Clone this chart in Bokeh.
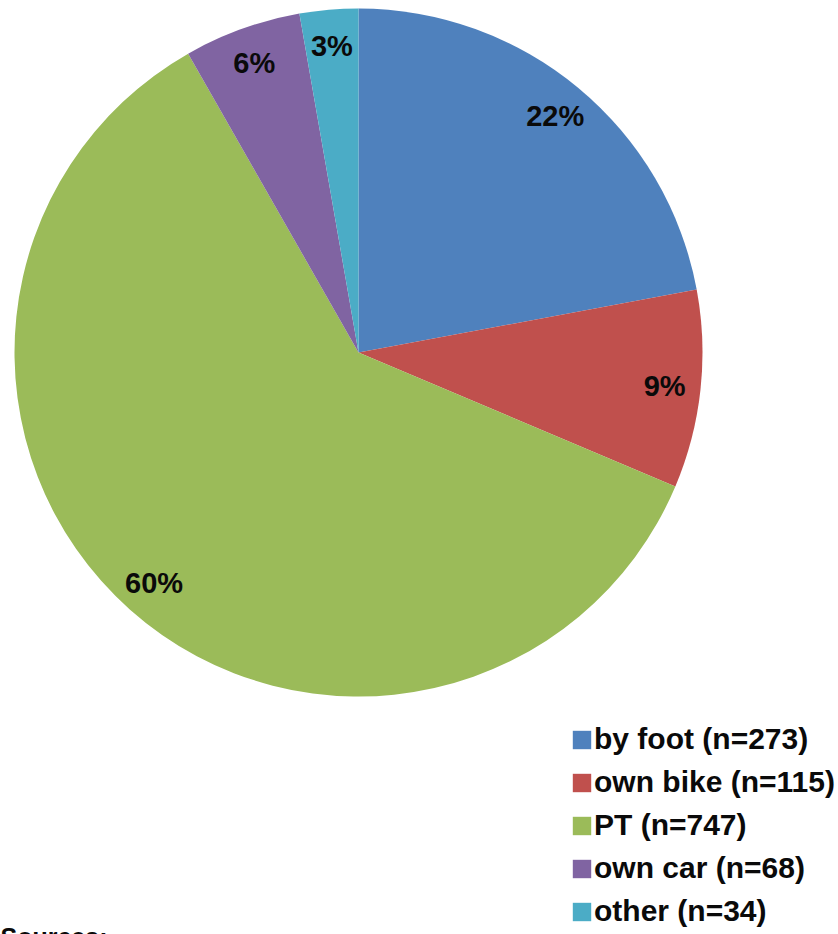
import numpy as np
from bokeh.plotting import figure
from bokeh.models import ColumnDataSource, Range1d, Legend, LegendItem, Label
from bokeh.core.properties import value
from bokeh.embed import file_html
from bokeh.resources import INLINE

# Mode of travel, survey counts
modes = ["by foot", "own bike", "PT", "own car", "other"]
counts = [273, 115, 747, 68, 34]
pct_labels = ["22%", "9%", "60%", "6%", "3%"]
colors = ["#4F81BD", "#C0504D", "#9BBB59", "#8064A2", "#4BACC6"]

W, H = 838, 934
R = 344            # pie radius (1 data unit = 1 px)
CX, CY = 358, 352  # pie centre measured from the top-left corner

counts_arr = np.array(counts, dtype=float)
frac = counts_arr / counts_arr.sum()
cum_end = np.cumsum(frac)
cum_start = cum_end - frac

# clockwise from 12 o'clock
start = np.pi / 2 - 2 * np.pi * cum_start
end = np.pi / 2 - 2 * np.pi * cum_end
mid = (start + end) / 2

label_r = 0.895 * R
src = ColumnDataSource(dict(
    start=start, end=end, color=colors,
    lx=label_r * np.cos(mid), ly=label_r * np.sin(mid),
    txt=pct_labels,
))

p = figure(width=W, height=H, output_backend="svg", toolbar_location=None,
           x_range=Range1d(-CX, W - CX), y_range=Range1d(CY - H, CY),
           min_border=0, outline_line_color=None, background_fill_color="white",
           border_fill_color="white")
p.axis.visible = False
p.grid.visible = False

wedges = p.wedge(x=0, y=0, radius=R, start_angle="start", end_angle="end",
                 direction="clock", fill_color="color", line_color=None, source=src)

p.text(x="lx", y="ly", text="txt", source=src, text_align="center",
       text_baseline="middle", text_font=value("Liberation Sans"),
       text_font_style="bold", text_font_size="29px", text_color="#0a0a0a")

items = [LegendItem(label=f"{m} (n={c})", renderers=[wedges], index=i)
         for i, (m, c) in enumerate(zip(modes, counts))]
legend = Legend(items=items, location=(570, 6), orientation="vertical",
                label_text_font="Liberation Sans", label_text_font_style="bold",
                label_text_font_size="30px", label_text_color="#0a0a0a",
                glyph_width=23, glyph_height=23, label_height=30,
                label_standoff=1, spacing=9, padding=0, margin=0,
                border_line_color=None, background_fill_alpha=0)
p.add_layout(legend, "center")

sources = Label(x=0, y=-2, x_units="screen", y_units="screen", text="Sources:",
                text_font="Liberation Sans", text_font_style="bold",
                text_font_size="25px", text_color="#0a0a0a",
                text_baseline="alphabetic")
p.add_layout(sources)

open("out.html", "w").write(file_html(p, INLINE))
